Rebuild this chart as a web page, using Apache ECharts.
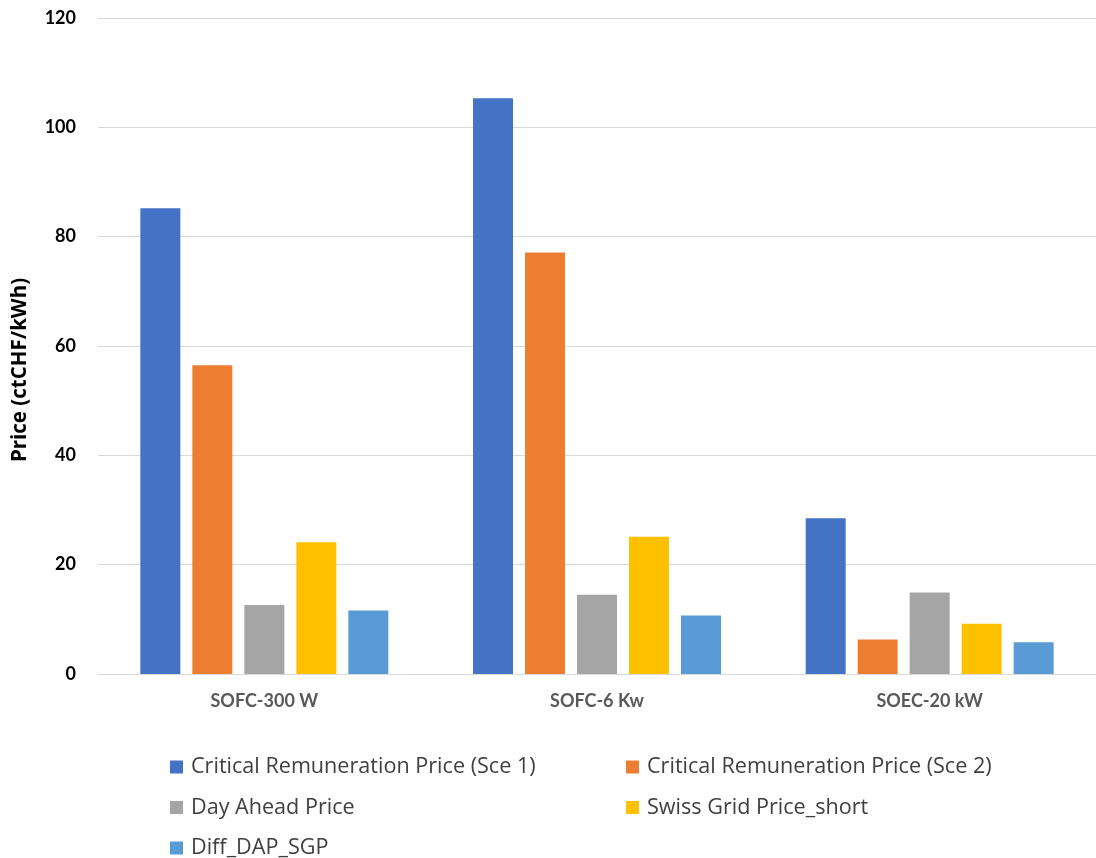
<!DOCTYPE html>
<html>
<head>
<meta charset="utf-8">
<script src="https://cdn.jsdelivr.net/npm/echarts@6/dist/echarts.min.js"></script>
<style>
  html, body { margin: 0; padding: 0; background: #ffffff; }
  #chart { width: 1096px; height: 858px; }
</style>
</head>
<body>
<div id="chart"></div>
<script>
// Systems compared
const categories = ['SOFC-300 W', 'SOFC-6 Kw', 'SOEC-20 kW'];

// Prices in ctCHF/kWh for each system
const critSce1 = [85.2, 105.3, 28.5];
const critSce2 = [56.5, 77.1, 6.3];
const dayAhead = [12.6, 14.5, 14.9];
const swissGridShort = [24.1, 25.1, 9.2];
const diffDapSgp = [11.6, 10.7, 5.8];

const seriesNames = [
  'Critical Remuneration Price (Sce 1)',
  'Critical Remuneration Price (Sce 2)',
  'Day Ahead Price',
  'Swiss Grid Price_short',
  'Diff_DAP_SGP'
];
const seriesData = [critSce1, critSce2, dayAhead, swissGridShort, diffDapSgp];
const seriesColors = ['#4472C4', '#ED7D31', '#A5A5A5', '#FFC000', '#5B9BD5'];

const yTicks = { min: 0, max: 120, step: 20 };
const yAxisTitle = 'Price (ctCHF/kWh)';

const axisFont = 'Lato, "Liberation Sans", Arial, sans-serif';
const legendFont = '"Open Sans", "Liberation Sans", Arial, sans-serif';

const chart = echarts.init(document.getElementById('chart'), null, { renderer: 'canvas' });

// Two stacked legend columns
const legendCommon = {
  orient: 'vertical',
  top: 756,
  height: 140,
  padding: 0,
  itemWidth: 13,
  itemHeight: 13,
  itemGap: 18.5,
  icon: 'rect',
  selectedMode: false,
  textStyle: { fontFamily: legendFont, fontSize: 21.6, color: '#404040', padding: [0, 0, 0, 3] }
};

chart.setOption({
  backgroundColor: '#ffffff',
  animation: false,
  grid: { left: 98, right: 0, top: 18, bottom: 184, containLabel: false },
  legend: [
    Object.assign({}, legendCommon, { left: 170, data: [seriesNames[0], seriesNames[2], seriesNames[4]] }),
    Object.assign({}, legendCommon, { left: 626, data: [seriesNames[1], seriesNames[3]] })
  ],
  xAxis: {
    type: 'category',
    data: categories,
    axisLine: { show: true, lineStyle: { color: '#d9d9d9', width: 1 } },
    axisTick: { show: false },
    axisLabel: {
      margin: 18,
      fontFamily: axisFont,
      fontSize: 18,
      fontWeight: 'bold',
      color: '#595959'
    },
    splitLine: { show: false }
  },
  yAxis: {
    type: 'value',
    min: yTicks.min,
    max: yTicks.max,
    interval: yTicks.step,
    axisLine: { show: false },
    axisTick: { show: false },
    axisLabel: {
      margin: 22,
      fontFamily: axisFont,
      fontSize: 18,
      fontWeight: 'bold',
      color: '#000000'
    },
    splitLine: { show: true, lineStyle: { color: '#d9d9d9', width: 1 } }
  },
  graphic: [{
    type: 'text',
    x: 20.5,
    y: 370,
    rotation: Math.PI / 2,
    style: {
      text: yAxisTitle,
      font: 'bold 20.5px ' + legendFont,
      fill: '#000000',
      align: 'center',
      verticalAlign: 'middle'
    }
  }],
  series: seriesNames.map((name, i) => ({
    name: name,
    type: 'bar',
    data: seriesData[i],
    barWidth: 40,
    barGap: '30%',
    itemStyle: { color: seriesColors[i] },
    emphasis: { disabled: true }
  }))
});
</script>
</body>
</html>
